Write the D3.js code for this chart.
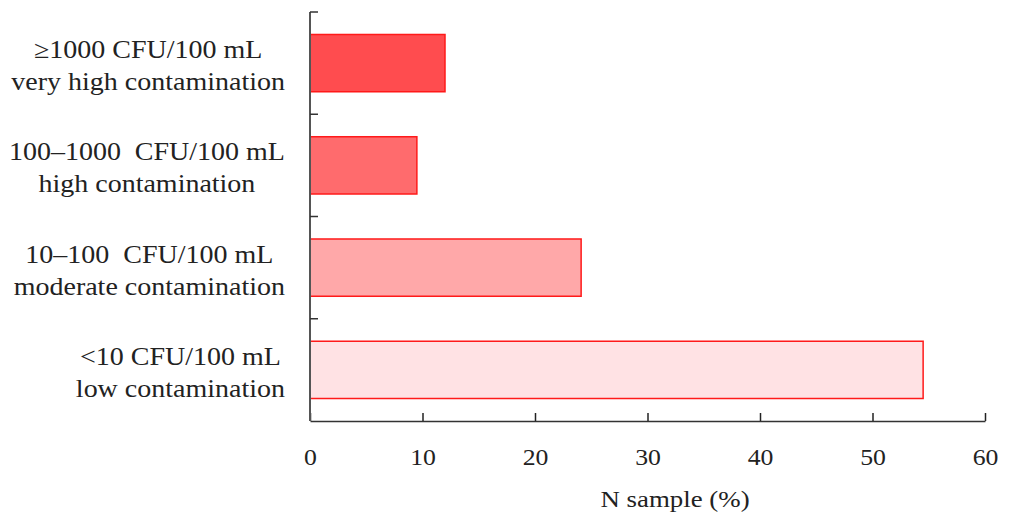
<!DOCTYPE html>
<html><head><meta charset="utf-8">
<script src="https://cdn.jsdelivr.net/npm/d3@7"></script>
<style>
html,body{margin:0;padding:0;background:#fff;}
svg{display:block;}
svg text{font-family:"Liberation Serif","Times New Roman",serif;white-space:pre;}
</style></head>
<body><svg id="c" width="1012" height="515"></svg>
<script>
const categories = [
  ["\u22651000 CFU/100 mL", "very high contamination"],
  ["100\u20131000  CFU/100 mL", "high contamination"],
  ["10\u2013100  CFU/100 mL", "moderate contamination"],
  ["<10 CFU/100 mL", "low contamination"]
];
const values = [12.0, 9.5, 24.1, 54.5];
const fills = ["#ff4c4f", "#ff6b6d", "#ffa8a9", "#ffe2e4"];
const xTicks = [0, 10, 20, 30, 40, 50, 60];
const xTitle = "N sample (%)";

const SX = 1.12;
const svg = d3.select("#c");
const m = {l: 310, r: 985, t: 12, b: 421};
const x = d3.scaleLinear().domain([0, 60]).range([m.l, m.r]);
const y = d3.scaleBand().domain(d3.range(categories.length)).range([m.t, m.b]).paddingInner(0.44).paddingOuter(0.22);
const yt = d3.scaleBand().domain(d3.range(categories.length)).range([m.t, m.b]);

// bars
svg.selectAll("rect.bar").data(values).join("rect")
  .attr("x", x(0)).attr("y", (d,i)=>y(i))
  .attr("width", d=>x(d)-x(0)).attr("height", y.bandwidth())
  .attr("fill", (d,i)=>fills[i]).attr("stroke", "#ff1a1a").attr("stroke-width", 1.5);

// x axis
const xa = svg.append("g").attr("transform", `translate(0,${m.b})`)
  .call(d3.axisBottom(x).tickValues(xTicks).tickSize(-8).tickPadding(28).tickSizeOuter(0));
xa.select(".domain").attr("stroke", "#333").attr("stroke-width", 1.5);
xa.selectAll(".tick line").attr("stroke", "#222").attr("stroke-width", 1.5);
xa.selectAll(".tick text").attr("font-size", 23).attr("fill", "#222")
  .attr("transform", `scale(${SX},1)`);

// y axis line + ticks at band boundaries
svg.append("line").attr("x1", m.l).attr("x2", m.l).attr("y1", m.t).attr("y2", m.b)
  .attr("stroke", "#555").attr("stroke-width", 2);
const bounds = d3.range(categories.length).map(i=>yt(i));
svg.selectAll("line.yt").data(bounds).join("line")
  .attr("x1", m.l).attr("x2", m.l+8).attr("y1", d=>d).attr("y2", d=>d)
  .attr("stroke", "#333").attr("stroke-width", 1.5);

// category labels: lines centered with each other, block right-aligned at 285
const lab = svg.selectAll("text.cat").data(categories).join("text")
  .attr("class", "cat")
  .attr("text-anchor", "middle").attr("font-size", 25).attr("fill", "#222");
lab.append("tspan").attr("x", 0).attr("y", -5).text(d=>d[0]);
lab.append("tspan").attr("x", 0).attr("y", 27).text(d=>d[1]);
lab.each(function(d,i){
  const w = d3.max(d3.select(this).selectAll("tspan").nodes(), n=>n.getComputedTextLength()) * SX;
  d3.select(this).attr("transform", `translate(${285 - w/2},${yt(i)+yt.bandwidth()/2}) scale(${SX},1)`);
});

// x title
svg.append("text").attr("transform", `translate(675,507) scale(${SX},1)`).attr("text-anchor", "middle")
  .attr("font-size", 24).attr("fill", "#222").text(xTitle);
</script></body></html>
